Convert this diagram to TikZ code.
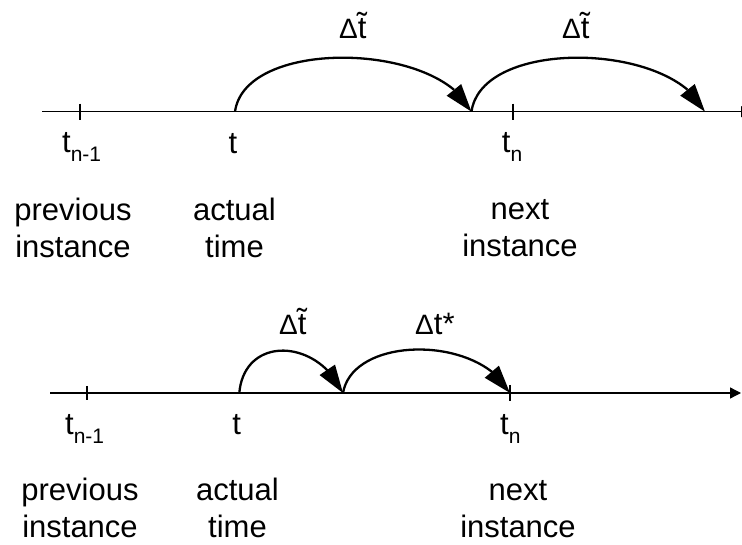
\documentclass[tikz,border=0pt]{standalone}
\usepackage{fontspec}
\setmainfont{Liberation Sans}
\usetikzlibrary{arrows.meta,bending}
\newcommand\dtsmall{{\fontsize{28}{28}\selectfont Δ}}
\newcommand\mysub[1]{\raisebox{-8.5pt}{\fontsize{21}{21}\selectfont #1}}
\begin{document}
\begin{tikzpicture}[x=1pt,y=-1pt,
  timeaxis/.style={line width=1.3pt,-{Triangle[length=11pt,width=11pt]}},
  tickmark/.style={line width=2pt},
  jump/.style={line width=2.3pt,-{Triangle[length=28pt,width=18pt,flex]}},
  lbl/.style={font=\fontsize{31}{37}\selectfont,inner sep=0pt,align=center}]
\useasboundingbox (0,0) rectangle (742,545);
\clip (0,0) rectangle (742,545);
% ---------- top timeline ----------
\coordinate (A0) at (42,111.7);
\coordinate (A1) at (752,111.7);
\coordinate (Atn1) at (80,111.7);
\coordinate (At) at (235,111.7);
\coordinate (Am) at (471.5,111.7);
\coordinate (Atn) at (513,111.7);
\coordinate (Ae) at (705,111.7);
\draw[timeaxis] (A0) -- (A1);
\draw[tickmark] (Atn1) ++(0,-8) -- ++(0,16);
\draw[tickmark] (Atn) ++(0,-8) -- ++(0,16);
\draw[jump] (At) .. controls +(10,-74) and +(-32,-70) .. (Am);
\draw[jump] (Am) .. controls +(10,-74) and +(-32,-70) .. (Ae);
\node[lbl,anchor=base west] (Ld1) at (339,38.3) {\dtsmall\~{t}};
\node[lbl,anchor=base west] (Ld2) at (562,38.3) {\dtsmall\~{t}};
\node[lbl,anchor=base west] (Lt1) at (62,153) {t\mysub{n-1}};
\node[lbl,anchor=base] (Lt) at (233,153.5) {t};
\node[lbl,anchor=base west] (Ltn) at (501.7,153) {t\mysub{n}};
\node[lbl,anchor=base] (Lp) at (73,258) {previous\\instance};
\node[lbl,anchor=base] (La) at (234.5,258) {actual\\time};
\node[lbl,anchor=base] (Ln) at (520,257) {next\\instance};
% ---------- bottom timeline ----------
\coordinate (B0) at (50,393);
\coordinate (B1) at (741,393);
\coordinate (Btn1) at (87,393);
\coordinate (Bt) at (239.3,393);
\coordinate (Bm) at (343,393);
\coordinate (Btn) at (510,393);
\draw[timeaxis] (B0) -- (B1);
\draw[tickmark] (Btn1) ++(0,-7) -- ++(0,14);
\draw[tickmark] (Btn) ++(0,-8) -- ++(0,16);
\draw[jump] (Bt) .. controls +(5,-58) and +(-25,-55) .. (Bm);
\draw[jump] (Bm) .. controls +(10,-58) and +(-30,-58) .. (Btn);
\node[lbl,anchor=base west] (Md1) at (279,335) {\dtsmall\~{t}};
\node[lbl,anchor=base west] (Md2) at (415,335) {\dtsmall t*};
\node[lbl,anchor=base west] (Mt1) at (65,435) {t\mysub{n-1}};
\node[lbl,anchor=base] (Mt) at (236.7,435) {t};
\node[lbl,anchor=base west] (Mtn) at (500,435) {t\mysub{n}};
\node[lbl,anchor=base] (Mp) at (80,537) {previous\\instance};
\node[lbl,anchor=base] (Ma) at (237.5,537) {actual\\time};
\node[lbl,anchor=base] (Mn) at (518,537) {next\\instance};
\end{tikzpicture}
\end{document}
